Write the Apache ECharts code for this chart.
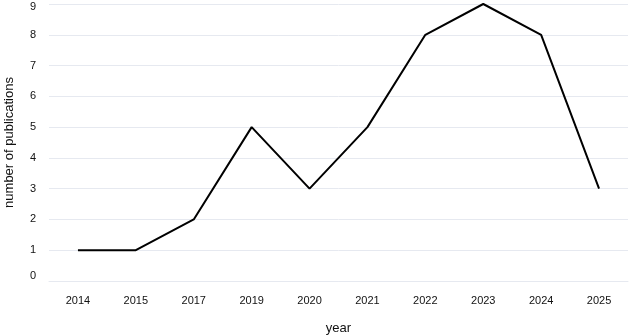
<!DOCTYPE html>
<html><head><meta charset="utf-8">
<script src="https://cdn.jsdelivr.net/npm/echarts@6/dist/echarts.min.js"></script>
<style>html,body{margin:0;padding:0;background:#fff}#c{width:630px;height:336px}</style>
</head><body><div id="c"></div>
<script>
const years = ['2014','2015','2017','2019','2020','2021','2022','2023','2024','2025'];
const publications = [1,1,2,5,3,5,8,9,8,3];
const yTicks = [0,1,2,3,4,5,6,7,8,9];

const chart = echarts.init(document.getElementById('c'), null, {renderer:'canvas'});
const lblBase = {fontFamily:'Liberation Sans', fontSize:11, color:'#111'};
chart.setOption({
  animation:false,
  backgroundColor:'#fff',
  grid:{left:49, right:2, top:4, bottom:55, containLabel:false, outerBoundsMode:'none'},
  xAxis:{
    type:'category', data:years, boundaryGap:true,
    name:'year', nameLocation:'middle', nameGap:41,
    nameTextStyle:{fontFamily:'Liberation Sans', fontSize:13, color:'#111'},
    axisLine:{show:true, lineStyle:{color:'#e6e9f0', width:1}},
    axisTick:{show:false},
    axisLabel:Object.assign({margin:14}, lblBase)
  },
  yAxis:{
    type:'value', min:yTicks[0], max:yTicks[yTicks.length-1], interval:1,
    name:'number of publications', nameLocation:'middle', nameGap:33, nameRotate:90,
    nameTextStyle:{fontFamily:'Liberation Sans', fontSize:13, color:'#111'},
    axisLine:{show:false}, axisTick:{show:false},
    splitLine:{lineStyle:{color:'#e6e9f0', width:1}},
    axisLabel:Object.assign({margin:13,
      formatter:function(v){
        if (v === yTicks[yTicks.length-1]) return '{top|' + v + '}';
        if (v === yTicks[0]) return '{bot|' + v + '}';
        return String(v);
      },
      rich:{
        top:Object.assign({padding:[6,0,0,0]}, lblBase),
        bot:Object.assign({padding:[0,0,10,0]}, lblBase)
      }
    }, lblBase)
  },
  series:[{
    type:'line', data:publications, symbol:'none',
    lineStyle:{color:'#000', width:2}
  }]
});
</script></body></html>
